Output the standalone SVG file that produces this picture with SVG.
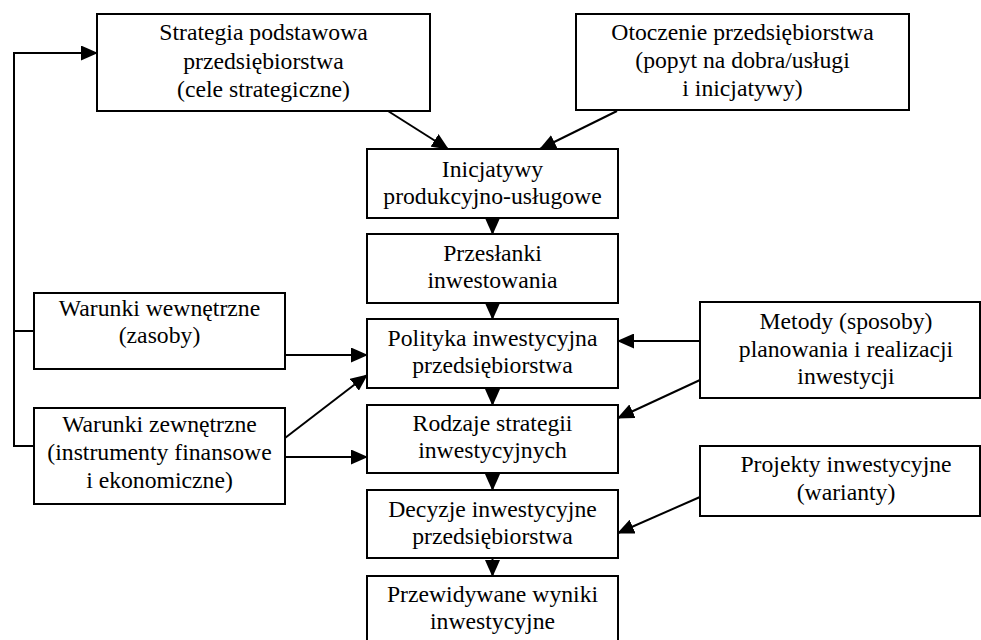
<svg xmlns="http://www.w3.org/2000/svg" width="981" height="640" viewBox="0 0 981 640">
<style>
  .box { fill: #fff; stroke: #000; stroke-width: 2; }
  .t { font-size: 23.7px; fill: #000; text-anchor: middle; }
  .c { fill: none; stroke: #000; stroke-width: 2; }
  .a { marker-end: url(#ah); }
</style>
<defs>
  <marker id="ah" markerUnits="userSpaceOnUse" markerWidth="17" markerHeight="15" refX="16" refY="7.5" orient="auto">
    <path d="M0,0 L17,7.5 L0,15 z" fill="#000"/>
  </marker>
</defs>
<rect width="981" height="640" fill="#fff"/>

<g id="connectors">
  <polyline class="c a" points="34,331 14,331 14,53 97,53"/>
  <polyline class="c" points="34,446 14,446 14,331"/>
  <line class="c a" x1="388" y1="111" x2="448" y2="149"/>
  <line class="c a" x1="617" y1="111" x2="540" y2="149"/>
  <line class="c a" x1="492.5" y1="218" x2="492.5" y2="234"/>
  <line class="c a" x1="492.5" y1="303" x2="492.5" y2="319"/>
  <line class="c a" x1="492.5" y1="388" x2="492.5" y2="405"/>
  <line class="c a" x1="492.5" y1="473" x2="492.5" y2="490"/>
  <line class="c a" x1="492.5" y1="558" x2="492.5" y2="576"/>
  <line class="c a" x1="285" y1="355" x2="367" y2="355"/>
  <line class="c a" x1="285" y1="438" x2="367" y2="375"/>
  <line class="c a" x1="285" y1="457" x2="367" y2="457"/>
  <line class="c a" x1="700" y1="341" x2="618" y2="341"/>
  <line class="c a" x1="700" y1="380" x2="618" y2="418"/>
  <line class="c a" x1="700" y1="497" x2="618" y2="533"/>
</g>

<g id="nodes" font-family="Liberation Serif, Times New Roman, serif">
<g id="strategia">
  <rect class="box" x="97" y="14" width="333" height="97"/>
  <text class="t" x="263.5" y="40">Strategia podstawowa</text>
  <text class="t" x="263.5" y="69">przedsiębiorstwa</text>
  <text class="t" x="263.5" y="97">(cele strategiczne)</text>
</g>
<g id="otoczenie">
  <rect class="box" x="576" y="14" width="333" height="96"/>
  <text class="t" x="742.5" y="40">Otoczenie przedsiębiorstwa</text>
  <text class="t" x="742.5" y="68">(popyt na dobra/usługi</text>
  <text class="t" x="742.5" y="96">i inicjatywy)</text>
</g>
<g id="inicjatywy">
  <rect class="box" x="367" y="149" width="251" height="69"/>
  <text class="t" x="492.5" y="177">Inicjatywy</text>
  <text class="t" x="492.5" y="204">produkcyjno-usługowe</text>
</g>
<g id="przeslanki">
  <rect class="box" x="367" y="234" width="251" height="69"/>
  <text class="t" x="492.5" y="261">Przesłanki</text>
  <text class="t" x="492.5" y="288">inwestowania</text>
</g>
<g id="polityka">
  <rect class="box" x="367" y="319" width="251" height="69"/>
  <text class="t" x="492.5" y="346">Polityka inwestycyjna</text>
  <text class="t" x="492.5" y="373">przedsiębiorstwa</text>
</g>
<g id="rodzaje">
  <rect class="box" x="367" y="405" width="251" height="68"/>
  <text class="t" x="492.5" y="431">Rodzaje strategii</text>
  <text class="t" x="492.5" y="458">inwestycyjnych</text>
</g>
<g id="decyzje">
  <rect class="box" x="367" y="490" width="251" height="68"/>
  <text class="t" x="492.5" y="517">Decyzje inwestycyjne</text>
  <text class="t" x="492.5" y="544">przedsiębiorstwa</text>
</g>
<g id="przewidywane">
  <rect class="box" x="367" y="576" width="251" height="70"/>
  <text class="t" x="492.5" y="602">Przewidywane wyniki</text>
  <text class="t" x="492.5" y="629">inwestycyjne</text>
</g>
<g id="warunki-wewnetrzne">
  <rect class="box" x="34" y="293" width="251" height="76"/>
  <text class="t" x="159.5" y="316">Warunki wewnętrzne</text>
  <text class="t" x="159.5" y="343">(zasoby)</text>
</g>
<g id="warunki-zewnetrzne">
  <rect class="box" x="34" y="408" width="251" height="96"/>
  <text class="t" x="159.5" y="432">Warunki zewnętrzne</text>
  <text class="t" x="159.5" y="460">(instrumenty finansowe</text>
  <text class="t" x="159.5" y="488">i ekonomiczne)</text>
</g>
<g id="metody">
  <rect class="box" x="700" y="302" width="280" height="96"/>
  <text class="t" x="846" y="329">Metody (sposoby)</text>
  <text class="t" x="846" y="357">planowania i realizacji</text>
  <text class="t" x="846" y="384">inwestycji</text>
</g>
<g id="projekty">
  <rect class="box" x="700" y="446" width="280" height="70"/>
  <text class="t" x="846" y="472">Projekty inwestycyjne</text>
  <text class="t" x="846" y="500">(warianty)</text>
</g>
</g>
</svg>
